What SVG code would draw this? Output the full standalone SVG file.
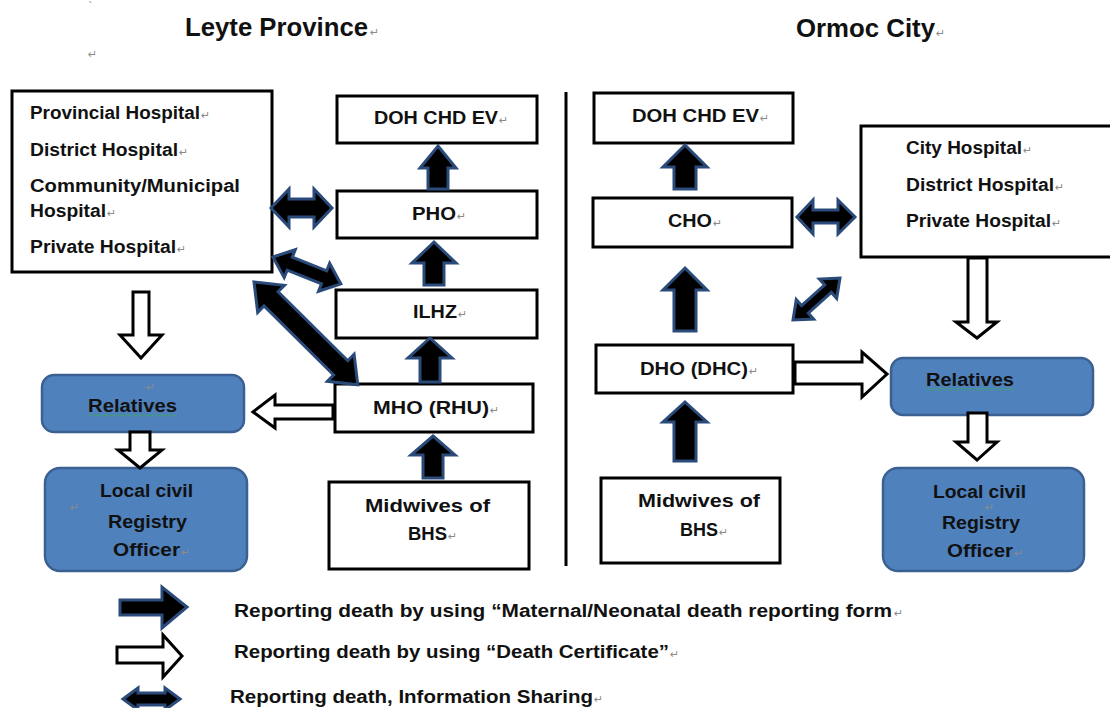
<svg xmlns="http://www.w3.org/2000/svg" width="1110" height="708" viewBox="0 0 1110 708">
<defs>
<style>
.t{font-family:"Liberation Sans",Arial,sans-serif;font-weight:bold;font-size:18px;fill:#111}
.title{font-size:26px}
.lg{font-size:17.5px}
.pm{font-family:"DejaVu Sans",sans-serif;font-weight:normal;font-size:11px;fill:#8a8a8a}
.box{fill:#fff;stroke:#000;stroke-width:3}
.blue{fill:#4f81bd;stroke:#3a6191;stroke-width:2.5}
.dark{fill:#000;stroke:#2a4a7a;stroke-width:3;stroke-linejoin:miter}
.white{fill:#fff;stroke:#000;stroke-width:3;stroke-linejoin:miter}
</style>
<pattern id="squig" width="4" height="3" patternUnits="userSpaceOnUse">
<path d="M0,2.5 L2,0.5 L4,2.5" fill="none" stroke="#3cb043" stroke-width="0.8"/>
</pattern>
</defs>
<rect width="1110" height="708" fill="#fff"/>

<g id="titles">
<text class="pm" x="88" y="10" font-size="10">ˋ</text>
<text class="t title" x="185" y="36" textLength="183" lengthAdjust="spacingAndGlyphs">Leyte Province</text>
<text class="pm" x="370" y="36">↵</text>
<text class="pm" x="88" y="58">↵</text>
<text class="t title" x="796" y="37" textLength="139" lengthAdjust="spacingAndGlyphs">Ormoc City</text>
<text class="pm" x="936" y="37">↵</text>
</g>

<g id="divider">
<line x1="566" y1="92" x2="566" y2="566" stroke="#000" stroke-width="3"/>
</g>

<g id="hospitals-left">
<rect class="box" x="12" y="91" width="260" height="181"/>
<text class="t" x="30" y="119" textLength="170" lengthAdjust="spacingAndGlyphs">Provincial Hospital</text>
<text class="pm" x="201" y="119">↵</text>
<text class="t" x="30" y="156" textLength="148" lengthAdjust="spacingAndGlyphs">District Hospital</text>
<text class="pm" x="179" y="156">↵</text>
<text class="t" x="30" y="192" textLength="210" lengthAdjust="spacingAndGlyphs">Community/Municipal</text>
<text class="t" x="30" y="217" textLength="76" lengthAdjust="spacingAndGlyphs">Hospital</text>
<text class="pm" x="107" y="217">↵</text>
<text class="t" x="30" y="253" textLength="146" lengthAdjust="spacingAndGlyphs">Private Hospital</text>
<text class="pm" x="177" y="253">↵</text>
</g>

<g id="doh-left">
<rect class="box" x="337" y="96" width="200" height="47"/>
<text class="t" x="374" y="124" textLength="124" lengthAdjust="spacingAndGlyphs">DOH CHD EV</text>
<text class="pm" x="499" y="124">↵</text>
</g>
<g id="pho">
<rect class="box" x="337" y="191" width="200" height="47"/>
<text class="t" x="412" y="220" textLength="44" lengthAdjust="spacingAndGlyphs">PHO</text>
<text class="pm" x="457" y="220">↵</text>
</g>
<g id="ilhz">
<rect class="box" x="336" y="290" width="201" height="48"/>
<text class="t" x="413" y="318" textLength="44" lengthAdjust="spacingAndGlyphs">ILHZ</text>
<text class="pm" x="458" y="318">↵</text>
</g>
<g id="mho">
<rect class="box" x="335" y="384" width="198" height="48"/>
<text class="t" x="373" y="414" textLength="116" lengthAdjust="spacingAndGlyphs">MHO (RHU)</text>
<text class="pm" x="490" y="414">↵</text>
</g>
<g id="midwives-left">
<rect class="box" x="329" y="482" width="200" height="87"/>
<text class="t" x="365" y="512" textLength="125" lengthAdjust="spacingAndGlyphs">Midwives of</text>
<text class="t" x="408" y="540" textLength="39" lengthAdjust="spacingAndGlyphs">BHS</text>
<text class="pm" x="448" y="540">↵</text>
</g>
<g id="relatives-left">
<rect class="blue" x="42" y="375" width="202" height="57" rx="12"/>
<text class="pm" x="146" y="391" font-size="9">↵</text>
<text class="t" x="88" y="412" textLength="89" lengthAdjust="spacingAndGlyphs">Relatives</text>
<rect x="88" y="414" width="89" height="3" fill="url(#squig)"/>
</g>
<g id="lcr-left">
<rect class="blue" x="45" y="468" width="202" height="103" rx="15"/>
<text class="t" x="100" y="497" textLength="93" lengthAdjust="spacingAndGlyphs">Local civil</text>
<text class="pm" x="70" y="511">↵</text>
<text class="t" x="108" y="528" textLength="79" lengthAdjust="spacingAndGlyphs">Registry</text>
<text class="t" x="113" y="556" textLength="67" lengthAdjust="spacingAndGlyphs">Officer</text>
<text class="pm" x="181" y="556">↵</text>
</g>

<g id="doh-right">
<rect class="box" x="594" y="93" width="199" height="50"/>
<text class="t" x="632" y="122" textLength="127" lengthAdjust="spacingAndGlyphs">DOH CHD EV</text>
<text class="pm" x="760" y="122">↵</text>
</g>
<g id="cho">
<rect class="box" x="593" y="198" width="199" height="49"/>
<text class="t" x="668" y="227" textLength="44" lengthAdjust="spacingAndGlyphs">CHO</text>
<text class="pm" x="713" y="227">↵</text>
</g>
<g id="hospitals-right">
<rect class="box" x="861" y="126" width="252" height="131"/>
<text class="t" x="906" y="154" textLength="116" lengthAdjust="spacingAndGlyphs">City Hospital</text>
<text class="pm" x="1023" y="154">↵</text>
<text class="t" x="906" y="191" textLength="148" lengthAdjust="spacingAndGlyphs">District Hospital</text>
<text class="pm" x="1055" y="191">↵</text>
<text class="t" x="906" y="227" textLength="145" lengthAdjust="spacingAndGlyphs">Private Hospital</text>
<text class="pm" x="1052" y="227">↵</text>
</g>
<g id="dho">
<rect class="box" x="596" y="345" width="197" height="48"/>
<text class="t" x="640" y="375" textLength="108" lengthAdjust="spacingAndGlyphs">DHO (DHC)</text>
<text class="pm" x="749" y="375">↵</text>
</g>
<g id="midwives-right">
<rect class="box" x="601" y="478" width="179" height="85"/>
<text class="t" x="638" y="507" textLength="122" lengthAdjust="spacingAndGlyphs">Midwives of</text>
<text class="t" x="680" y="536" textLength="38" lengthAdjust="spacingAndGlyphs">BHS</text>
<text class="pm" x="719" y="536">↵</text>
</g>
<g id="relatives-right">
<rect class="blue" x="891" y="358" width="202" height="57" rx="12"/>
<text class="t" x="926" y="386" textLength="88" lengthAdjust="spacingAndGlyphs">Relatives</text>
<rect x="926" y="388" width="88" height="3" fill="url(#squig)"/>
</g>
<g id="lcr-right">
<rect class="blue" x="883" y="468" width="201" height="103" rx="15"/>
<text class="t" x="933" y="498" textLength="93" lengthAdjust="spacingAndGlyphs">Local civil</text>
<text class="pm" x="985" y="511" font-size="9">↵</text>
<text class="t" x="942" y="529" textLength="78" lengthAdjust="spacingAndGlyphs">Registry</text>
<text class="t" x="947" y="557" textLength="66" lengthAdjust="spacingAndGlyphs">Officer</text>
<text class="pm" x="1014" y="557">↵</text>
</g>

<g id="connectors">
<polygon class="dark" points="438,146 456,168 448,168 448,189 428,189 428,168 420,168"/>
<polygon class="dark" points="434,242 456,263 444,263 444,285 424,285 424,263 412,263"/>
<polygon class="dark" points="430,338 452,358 440,358 440,382 420,382 420,358 408,358"/>
<polygon class="dark" points="433,436 455,455 443,455 443,478 423,478 423,455 411,455"/>
<polygon class="dark" points="685,145 707,167 696,167 696,189 674,189 674,167 663,167"/>
<polygon class="dark" points="685,268 707,290 696,290 696,331 674,331 674,290 663,290"/>
<polygon class="dark" points="685,402 707,422 696,422 696,461 674,461 674,422 663,422"/>
<polygon class="dark" points="271,208 289,189 289,199 314,199 314,189 332,208 314,227 314,217 289,217 289,227"/>
<polygon class="dark" points="797,217 813,200 813,210 838,210 838,200 855,217 838,234 838,223 813,223 813,234"/>
<polygon class="dark" transform="translate(273,257) rotate(21.7)" points="0,0 18,-15 18,-7 55,-7 55,-15 73,0 55,15 55,7 18,7 18,15"/>
<polygon class="dark" transform="translate(254,282) rotate(44.7)" points="0,0 24,-19 24,-10 122,-10 122,-19 146,0 122,19 122,10 24,10 24,19"/>
<polygon class="dark" transform="translate(793,320) rotate(-41.8)" points="0,0 16,-13 16,-5 47,-5 47,-13 63,0 47,13 47,5 16,5 16,13"/>
<polygon class="white" points="133,292 149,292 149,335 162,335 141,358 120,335 133,335"/>
<polygon class="white" points="333,405 275,405 275,395 253,412 275,428 275,419 333,419"/>
<polygon class="white" points="130,432 150,432 150,450 162,450 140,468 118,450 130,450"/>
<polygon class="white" points="795,362 862,362 862,352 887,374 862,397 862,384 795,384"/>
<polygon class="white" points="968,258 987,258 987,322 997,322 977,338 956,322 968,322"/>
<polygon class="white" points="968,413 987,413 987,442 997,442 977,460 956,442 968,442"/>
</g>

<g id="legend">
<polygon class="dark" points="120,600 162,600 162,587 187,607 162,628 162,615 120,615"/>
<text class="t lg" x="234" y="617" textLength="658" lengthAdjust="spacingAndGlyphs">Reporting death by using “Maternal/Neonatal death reporting form</text>
<text class="pm" x="894" y="617">↵</text>
<polygon class="white" points="117,647 163,647 163,635 182,656 163,677 163,663 117,663"/>
<text class="t lg" x="234" y="658" textLength="435" lengthAdjust="spacingAndGlyphs">Reporting death by using “Death Certificate”</text>
<text class="pm" x="670" y="658">↵</text>
<polygon class="dark" points="123,699 138,688 138,693 165,693 165,688 180,699 165,710 165,705 138,705 138,710"/>
<text class="t lg" x="230" y="703" textLength="363" lengthAdjust="spacingAndGlyphs">Reporting death, Information Sharing</text>
<text class="pm" x="594" y="703">↵</text>
</g>
</svg>
